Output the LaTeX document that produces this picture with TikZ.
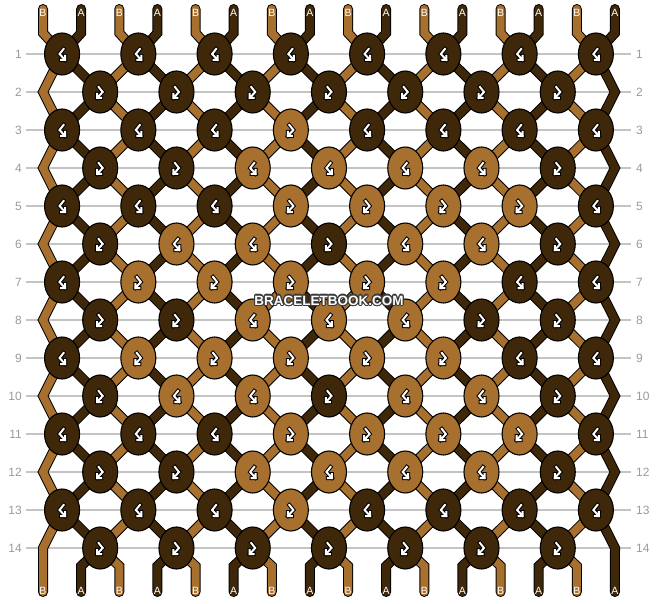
\documentclass[tikz,border=0pt]{standalone}
\usepackage{fontspec}
\setmainfont{Liberation Sans}
\usepackage{contour}
\contourlength{1.1pt}
\usetikzlibrary{shapes.geometric, backgrounds}

\definecolor{threadA}{HTML}{3F2709}
\definecolor{threadB}{HTML}{A7702F}
\definecolor{rowgray}{HTML}{C4C4C4}
\definecolor{numgray}{HTML}{9A9A9A}
\definecolor{wmgray}{HTML}{3A3A3A}

\tikzset{
  knot/.style={ellipse, draw=black, line width=1.1pt, minimum width=35pt,
    minimum height=42pt, inner sep=0pt},
  knot0/.style={knot, fill=threadB},
  knot1/.style={knot, fill=threadA},
  strand/.style={double=#1, double distance=8pt, line width=1pt, line cap=round},
  rowline/.style={draw=rowgray, line width=1.3pt},
  rownum/.style={text=numgray, inner sep=0pt, font=\fontsize{12}{14}\selectfont},
  endlabel/.style={text=white, inner sep=0pt, font=\fontsize{10.5}{12}\selectfont},
  sym/.style={line cap=rect, line join=miter},
  bf/.pic={
    \draw[sym, line width=4pt, black] (1.5,-5) -- (-2.5,0) -- (3,6) (3,2) -- (3,6) -- (-1,6);
    \draw[sym, line width=2pt, white] (1.5,-5) -- (-2.5,0) -- (3,6) (3,2) -- (3,6) -- (-1,6);
  },
  fb/.pic={
    \draw[sym, line width=4pt, black] (-1.5,-5) -- (2.5,0) -- (-3,6) (-3,2) -- (-3,6) -- (1,6);
    \draw[sym, line width=2pt, white] (-1.5,-5) -- (2.5,0) -- (-3,6) (-3,2) -- (-3,6) -- (1,6);
  }
}

\begin{document}
\begin{tikzpicture}[x=1pt, y=-1pt]
\useasboundingbox (0,0) rectangle (658,604);

% Knots, 1 = dark thread on top, 0 = light thread on top
\foreach \r/\cols in {1/{1,1,1,1,1,1,1,1}, 2/{1,1,1,1,1,1,1},
    3/{1,1,1,0,1,1,1,1}, 4/{1,1,0,0,0,0,1}, 5/{1,1,1,0,0,0,0,1},
    6/{1,0,0,1,0,0,1}, 7/{1,0,0,0,0,0,1,1}, 8/{1,1,0,0,0,1,1},
    9/{1,0,0,0,0,0,1,1}, 10/{1,0,0,1,0,0,1}, 11/{1,1,1,0,0,0,0,1},
    12/{1,1,0,0,0,0,1}, 13/{1,1,1,0,1,1,1,1}, 14/{1,1,1,1,1,1,1}} {
  \foreach \c [count=\j] in \cols {
    \pgfmathsetmacro\kx{isodd(\r) ? 43+38.13*(2*\j-1.5) : 43+38.13*(2*\j-0.5)}
    \pgfmathsetmacro\ky{54+38*(\r-1)}
    \node[knot\c] (k-\r-\j) at (\kx,\ky) {};
    \pgfmathtruncatemacro\kind{mod(\r+\c,2)}
    \ifnum\kind=0 \pic at (k-\r-\j) {bf}; \else \pic at (k-\r-\j) {fb}; \fi
  }
}

% Row numbers
\foreach \r in {1,...,14} {
  \pgfmathsetmacro\ky{54+38*(\r-1)}
  \node[rownum, anchor=east] (ll-\r) at (22,\ky) {\r};
  \node[rownum, anchor=west] (rl-\r) at (636,\ky) {\r};
}

% Edge turning points (even rows)
\foreach \r in {2,4,...,14} {
  \pgfmathsetmacro\ky{54+38*(\r-1)}
  \coordinate (k-\r-0) at (43,\ky);
  \coordinate (k-\r-8) at (615,\ky);
}

% Thread ends
\foreach \i in {1,...,16} {
  \pgfmathsetmacro\sx{43+38.13*(\i-1)}
  \coordinate (s-\i-top) at (\sx,9);
  \coordinate (s-\i-in) at (\sx,33);
  \coordinate (s-\i-out) at (\sx,566);
  \coordinate (s-\i-bot) at (\sx,592);
  \ifodd\i \def\lab{B}\else \def\lab{A}\fi
  \node[endlabel] (lt-\i) at (\sx,13) {\lab};
  \node[endlabel] (lb-\i) at (\sx,591) {\lab};
}

\begin{scope}[on background layer]
  \foreach \r in {1,...,14}
    \draw[rowline] ([xshift=4pt]ll-\r.east) -- ([xshift=-5pt]rl-\r.west);
  \foreach \i in {1,...,16} {
    \pgfmathtruncatemacro\a{(\i+1)/2}
    \pgfmathtruncatemacro\b{\i/2}
    \ifodd\i \def\col{threadB}\else \def\col{threadA}\fi
    \draw[strand=\col] (s-\i-top) -- (s-\i-in)
      \foreach \r/\rr in {1/2,3/4,5/6,7/8,9/10,11/12,13/14} {
        -- (k-\r-\a.center) -- (k-\rr-\b.center) }
      -- (s-\i-out) -- (s-\i-bot);
  }
\end{scope}

\node[text=white, font=\bfseries\fontsize{13.5}{15}\selectfont] (mark) at (329,301)
  {\contour{wmgray}{BRACELETBOOK.COM}};

\end{tikzpicture}
\end{document}
